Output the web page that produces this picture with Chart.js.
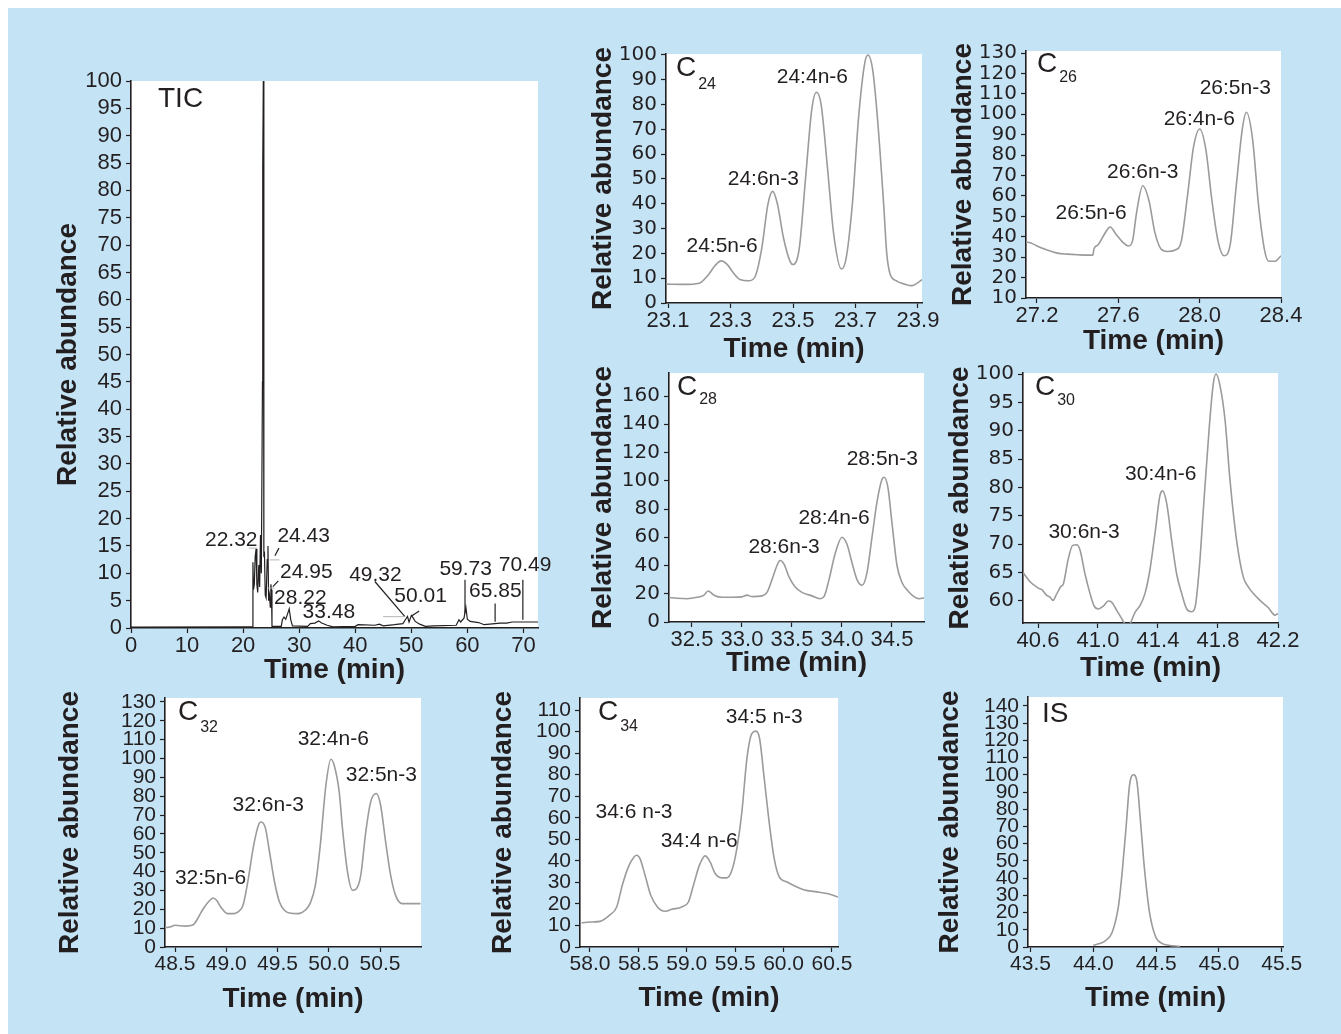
<!DOCTYPE html>
<html>
<head>
<meta charset="utf-8">
<title>VLC-PUFA chromatograms</title>
<script src="https://cdn.jsdelivr.net/npm/chart.js@4.4.1/dist/chart.umd.min.js"></script>
<style>
  html, body { margin: 0; padding: 0; background: #fff; }
  #page { position: absolute; left: 8px; top: 8px; width: 1333px; height: 1026px; background: #c4e4f6; overflow: hidden; }
  canvas { position: absolute; }
</style>
</head>
<body>
<div id="page"></div>
<script>
// ---- data ----

// TIC
const ticTime = [0, 21.6, 21.75, 21.85, 22.0, 22.15, 22.32, 22.45, 22.6, 22.8,
  22.95, 23.1, 23.25, 23.45, 23.5, 23.6, 23.7, 23.8, 23.95, 24.1,
  24.3, 24.43, 24.55, 24.7, 24.85, 24.95, 25.05, 25.15, 26.8, 27.0,
  27.3, 27.6, 27.9, 28.22, 28.5, 28.8, 31.5, 32.0, 32.8, 33.48,
  34.0, 35.0, 36.0, 40.0, 40.5, 43.5, 44.3, 45.0, 47.0, 48.5,
  49.0, 49.32, 49.6, 50.01, 50.3, 50.7, 51.5, 52.5, 54.0, 58.0,
  58.5, 58.8, 59.4, 59.73, 60.0, 60.5, 62.0, 63.0, 64.0, 65.85,
  67.0, 68.0, 70.49, 72.6]
const ticAbund = [0.15, 0.2, 12, 7, 8, 13, 14.5, 8, 6.5, 11.5,
  7.5, 17, 10, 45, 84, 100, 13, 14, 6, 5.5,
  12.5, 15, 5, 6, 3.8, 8, 7, 0.3, 0.3, 1.5,
  2, 1.6, 2.5, 3.5, 1.5, 0.4, 0.3, 0.8, 0.9, 1.3,
  0.9, 0.5, 0.2, 0.3, 0.6, 0.5, 0.7, 0.4, 0.6, 0.8,
  1.6, 2.1, 1.1, 2.3, 1.9, 1.2, 0.7, 0.3, 0.4, 0.5,
  1.5, 1.1, 1.8, 3.8, 1.6, 1.2, 1, 0.6, 0.7, 0.9,
  0.9, 1.1, 1.1, 1.1]
const ticXTicks = [0, 10, 20, 30, 40, 50, 60, 70]
const ticYTicks = [0, 5, 10, 15, 20, 25, 30, 35, 40, 45, 50, 55, 60, 65, 70, 75, 80, 85, 90, 95, 100]
const ticPeaks = ['22.32', '24.43', '24.95', '28.22', '33.48', '49.32', '50.01', '59.73', '65.85', '70.49']
const ticPeakTime = [17.88, 30.8, 31.28, 30.2, 35.3, 43.6, 51.66, 59.7, 65.0, 70.3]
const ticPeakAbund = [16.0, 16.7, 10.2, 5.4, 2.8, 9.6, 5.9, 10.8, 6.8, 11.4]
// leader lines: t1, v1, t2, v2, dark?
const ticLeaders = [
  [26.39, 14.6, 25.67, 13.2, 1], [26.28, 8.6, 25.31, 7.56, 1], [43.5, 8.5, 48.86, 2.07, 1],
  [51.4, 3.1, 50.05, 2.2, 1], [59.58, 8.8, 59.58, 2.7, 1], [64.95, 4.5, 64.95, 1.15, 1],
  [69.9, 8.8, 69.9, 1.5, 1],
  [21.02, 14.6, 22.45, 14.6, 0], [24.72, 12.45, 26.5, 12.45, 0], [24.4, 7.3, 25.6, 7.3, 0],
  [44.97, 2.07, 48.86, 2.07, 0]
]

// C24
const c24Time = [23.093, 23.15, 23.2, 23.23, 23.25, 23.27, 23.29, 23.31, 23.33, 23.36,
  23.38, 23.4, 23.42, 23.435, 23.45, 23.47, 23.49, 23.5, 23.52, 23.54,
  23.56, 23.575, 23.59, 23.61, 23.63, 23.655, 23.67, 23.69, 23.71, 23.73,
  23.74, 23.755, 23.77, 23.79, 23.8, 23.81, 23.83, 23.86, 23.88, 23.913]
const c24Abund = [7.6, 7.5, 8, 11.5, 15, 17, 15.5, 12, 9.5, 9,
  11, 22, 40, 45, 40, 26, 17, 15.5, 22, 50,
  78, 85, 80, 55, 28, 13.7, 18, 40, 75, 97,
  100, 94, 75, 40, 20, 12, 9, 7.5, 7, 9.4]
const c24XTicks = [23.1, 23.3, 23.5, 23.7, 23.9]
const c24YTicks = [0, 10, 20, 30, 40, 50, 60, 70, 80, 90, 100]
const c24Peaks = ['24:5n-6', '24:6n-3', '24:4n-6']
const c24PeakTime = [23.273, 23.405, 23.562]
const c24PeakAbund = [23, 49.8, 90.9]

// C26
const c26Time = [27.146, 27.17, 27.2, 27.25, 27.3, 27.35, 27.4, 27.45, 27.475, 27.48,
  27.5, 27.53, 27.56, 27.59, 27.62, 27.65, 27.67, 27.69, 27.72, 27.75,
  27.78, 27.81, 27.84, 27.88, 27.91, 27.94, 27.97, 28.0, 28.03, 28.06,
  28.09, 28.12, 28.15, 28.18, 28.21, 28.23, 28.26, 28.29, 28.32, 28.34,
  28.37, 28.4]
const c26Abund = [37.4, 37, 35.5, 33.5, 32, 31.5, 31.2, 31, 31, 34,
  36, 41, 44.8, 41, 37.5, 35.5, 38, 52, 65, 58,
  42, 34, 32.8, 33.5, 38, 60, 84, 92.8, 83, 58,
  38, 30.7, 36, 65, 93, 101, 88, 55, 33, 28,
  28, 30.7]
const c26XTicks = [27.2, 27.6, 28.0, 28.4]
const c26YTicks = [10, 20, 30, 40, 50, 60, 70, 80, 90, 100, 110, 120, 130]
const c26Peaks = ['26:5n-6', '26:6n-3', '26:4n-6', '26:5n-3']
const c26PeakTime = [27.466, 27.72, 27.998, 28.175]
const c26PeakAbund = [51.3, 71.7, 97.8, 112.9]

// C28
const c28Time = [32.27, 32.35, 32.45, 32.55, 32.62, 32.66, 32.72, 32.8, 32.9, 33.0,
  33.05, 33.1, 33.2, 33.25, 33.3, 33.35, 33.38, 33.42, 33.47, 33.53,
  33.6, 33.7, 33.78, 33.82, 33.87, 33.93, 34.0, 34.05, 34.1, 34.15,
  34.2, 34.25, 34.3, 34.35, 34.4, 34.42, 34.46, 34.5, 34.55, 34.6,
  34.66, 34.72, 34.77, 34.82]
const c28Abund = [17.3, 16.8, 16.5, 17.5, 19, 22, 19, 17.5, 17.5, 17.8,
  19, 18, 18.5, 21, 30, 40, 43.5, 41, 32, 25,
  21, 18.5, 16.5, 18, 30, 48, 60, 55, 42, 30,
  26, 35, 60, 85, 101, 102.5, 95, 70, 40, 28,
  22, 18, 16.5, 17]
const c28XTicks = [32.5, 33.0, 33.5, 34.0, 34.5]
const c28YTicks = [0, 20, 40, 60, 80, 100, 120, 140, 160]
const c28Peaks = ['28:6n-3', '28:4n-6', '28:5n-3']
const c28PeakTime = [33.42, 33.92, 34.403]
const c28PeakAbund = [53.2, 73.3, 115.4]

// C30
const c30Time = [40.5, 40.547, 40.6, 40.629, 40.658, 40.68, 40.7, 40.72, 40.751, 40.769,
  40.8, 40.831, 40.858, 40.88, 40.913, 40.947, 40.973, 41.002, 41.036, 41.069,
  41.091, 41.124, 41.158, 41.191, 41.213, 41.247, 41.28, 41.313, 41.342, 41.38,
  41.413, 41.431, 41.458, 41.491, 41.524, 41.558, 41.591, 41.624, 41.647, 41.676,
  41.702, 41.742, 41.769, 41.787, 41.813, 41.847, 41.88, 41.924, 41.969, 42.002,
  42.036, 42.08, 42.136, 42.18, 42.2]
const c30Abund = [65, 63.4, 62.3, 61.9, 61, 60.7, 60.1, 61, 62.5, 63,
  67.2, 69.8, 69.9, 69, 64.8, 61.3, 59.2, 58.6, 59.1, 60,
  59.8, 58.4, 56.9, 55.7, 56, 58, 59.2, 61.3, 64.8, 71.9,
  78.6, 79.4, 77.2, 70.7, 64.8, 61.3, 58.6, 58.1, 58.9, 66,
  76, 90.7, 98.4, 100, 98, 91.9, 81.3, 70.7, 64.2, 62.5,
  61.3, 60.1, 58.8, 57.5, 57.8]
const c30XTicks = [40.6, 41.0, 41.4, 41.8, 42.2]
const c30YTicks = [60, 65, 70, 75, 80, 85, 90, 95, 100]
const c30Peaks = ['30:6n-3', '30:4n-6']
const c30PeakTime = [40.907, 41.418]
const c30PeakAbund = [72.06, 82.35]

// C32
const c32Time = [48.403, 48.451, 48.5, 48.6, 48.678, 48.72, 48.775, 48.84, 48.872, 48.905,
  48.953, 49.011, 49.066, 49.115, 49.163, 49.215, 49.267, 49.319, 49.341, 49.383,
  49.422, 49.471, 49.519, 49.568, 49.617, 49.701, 49.769, 49.817, 49.869, 49.917,
  49.972, 50.021, 50.053, 50.102, 50.134, 50.183, 50.231, 50.264, 50.312, 50.361,
  50.409, 50.464, 50.506, 50.555, 50.604, 50.652, 50.717, 50.814, 50.895]
const c32Abund = [10.3, 10.6, 11.5, 11.1, 11.8, 15, 20.3, 24.8, 26, 24.8,
  20.7, 17.7, 17.7, 18.6, 22.1, 36.3, 53.9, 65.4, 66.3, 62.8,
  50.4, 34.5, 23.9, 19.5, 18, 17.7, 19.5, 23, 32.7, 53.9,
  85.8, 99.6, 96.4, 82.2, 62.8, 39.8, 30.1, 30.6, 38, 61,
  77, 81.4, 75.2, 55.7, 38, 27.4, 23, 23, 23]
const c32XTicks = [48.5, 49.0, 49.5, 50.0, 50.5]
const c32YTicks = [0, 10, 20, 30, 40, 50, 60, 70, 80, 90, 100, 110, 120, 130]
const c32Peaks = ['32:5n-6', '32:6n-3', '32:4n-6', '32:5n-3']
const c32PeakTime = [48.846, 49.409, 50.044, 50.513]
const c32PeakAbund = [36.3, 75.2, 110.5, 91.1]

// C34
const c34Time = [57.914, 58.0, 58.103, 58.2, 58.276, 58.334, 58.397, 58.455, 58.483, 58.517,
  58.569, 58.628, 58.697, 58.776, 58.845, 58.948, 59.017, 59.069, 59.131, 59.19,
  59.241, 59.293, 59.362, 59.414, 59.466, 59.517, 59.569, 59.621, 59.672, 59.714,
  59.752, 59.8, 59.855, 59.903, 59.955, 60.034, 60.138, 60.234, 60.345, 60.448,
  60.562]
const c34Abund = [11.2, 11.6, 11.9, 14.7, 18.6, 28.7, 37.2, 41.8, 42.6, 41,
  33.3, 24, 18.6, 16.6, 17.5, 18.6, 20.9, 28.7, 38, 42.3,
  39.5, 34.1, 32.1, 32.1, 35.6, 45.7, 62.7, 87.5, 99.1, 100.2,
  96.8, 78.2, 56.5, 41, 32.5, 30.2, 27.9, 26.3, 25.6, 24.8,
  23.2]
const c34XTicks = [58.0, 58.5, 59.0, 59.5, 60.0, 60.5]
const c34YTicks = [0, 10, 20, 30, 40, 50, 60, 70, 80, 90, 100, 110]
const c34Peaks = ['34:6 n-3', '34:4 n-6', '34:5 n-3']
const c34PeakTime = [58.455, 59.128, 59.8]
const c34PeakAbund = [62.4, 49.3, 106.6]

// internal standard
const isTime = [44.0, 44.05, 44.1, 44.151, 44.201, 44.23, 44.262, 44.288, 44.32, 44.347,
  44.378, 44.407, 44.447, 44.497, 44.55, 44.598, 44.69]
const isAbund = [1, 2, 3.9, 8.7, 24.2, 43.6, 70.7, 93.9, 100, 96,
  70.7, 45.5, 20.3, 5.8, 2, 1, 0.4]
const isXTicks = [43.5, 44.0, 44.5, 45.0, 45.5]
const isYTicks = [0, 10, 20, 30, 40, 50, 60, 70, 80, 90, 100, 110, 120, 130, 140]

// ---- drawing ----

const INK = '#231f20'
const CURVE = '#9b9b9b'
const FONT = '"Liberation Sans", Arial, Helvetica, sans-serif'
const WIDE = '"DejaVu Sans", "Liberation Sans", Arial, sans-serif'
const PAD_TOP = 25
const PAD_RIGHT = 40

const bigTicks = { family: FONT, size: 22 }
const wideTicks = { family: WIDE, size: 20 }
const smallTicks = { family: FONT, size: 21 }

const panels = [
  { key: 'tic', area: [131, 81, 538, 628], yGap: 63, xGap: 42, x: [0, 72.6], y: [0, 100],
    time: ticTime, abund: ticAbund, xTicks: ticXTicks, yTicks: ticYTicks, dec: 0,
    xFont: bigTicks, yFont: bigTicks,
    color: INK, lw: 1.2, smooth: false,
    names: ticPeaks, nt: ticPeakTime, nv: ticPeakAbund, leaders: ticLeaders,
    tag: 'TIC', sub: '', tagDx: 27, tagDy: 18 },
  { key: 'c24', area: [666, 54, 922, 303], yGap: 63, xGap: 46, x: [23.0936, 23.9128], y: [0, 100.4],
    time: c24Time, abund: c24Abund, xTicks: c24XTicks, yTicks: c24YTicks, dec: 1,
    xFont: bigTicks, yFont: wideTicks,
    names: c24Peaks, nt: c24PeakTime, nv: c24PeakAbund,
    tag: 'C', sub: '24', tagDx: 10, tagDy: 14, subDy: 31 },
  { key: 'c26', area: [1026, 51, 1281, 298], yGap: 63, xGap: 43, x: [27.146, 28.4], y: [10, 131],
    time: c26Time, abund: c26Abund, xTicks: c26XTicks, yTicks: c26YTicks, dec: 1,
    xFont: bigTicks, yFont: wideTicks,
    names: c26Peaks, nt: c26PeakTime, nv: c26PeakAbund,
    tag: 'C', sub: '26', tagDx: 11, tagDy: 13, subDy: 27 },
  { key: 'c28', area: [669, 373, 924, 622], yGap: 66, xGap: 41, x: [32.27, 34.82], y: [0, 176.3],
    time: c28Time, abund: c28Abund, xTicks: c28XTicks, yTicks: c28YTicks, dec: 1,
    xFont: bigTicks, yFont: wideTicks,
    names: c28Peaks, nt: c28PeakTime, nv: c28PeakAbund,
    tag: 'C', sub: '28', tagDx: 8, tagDy: 14, subDy: 27 },
  { key: 'c30', area: [1023, 373, 1278, 623], yGap: 63, xGap: 45, x: [40.5, 42.2], y: [56.12, 100.18],
    time: c30Time, abund: c30Abund, xTicks: c30XTicks, yTicks: c30YTicks, dec: 1,
    xFont: bigTicks, yFont: wideTicks,
    names: c30Peaks, nt: c30PeakTime, nv: c30PeakAbund,
    tag: 'C', sub: '30', tagDx: 12, tagDy: 14, subDy: 28 },
  { key: 'c32', area: [165, 698, 421, 947], yGap: 95, xGap: 52, x: [48.402, 50.9], y: [0, 132.1],
    time: c32Time, abund: c32Abund, xTicks: c32XTicks, yTicks: c32YTicks, dec: 1,
    xFont: smallTicks, yFont: smallTicks,
    names: c32Peaks, nt: c32PeakTime, nv: c32PeakAbund,
    tag: 'C', sub: '32', tagDx: 13, tagDy: 14, subDy: 30 },
  { key: 'c34', area: [580, 698, 838, 947], yGap: 77, xGap: 51, x: [57.897, 60.562], y: [0, 115.6],
    time: c34Time, abund: c34Abund, xTicks: c34XTicks, yTicks: c34YTicks, dec: 1,
    xFont: smallTicks, yFont: smallTicks,
    names: c34Peaks, nt: c34PeakTime, nv: c34PeakAbund,
    tag: 'C', sub: '34', tagDx: 18, tagDy: 14, subDy: 29 },
  { key: 'is', area: [1028, 697, 1283, 947], yGap: 78, xGap: 51, x: [43.48, 45.51], y: [0, 145.2],
    time: isTime, abund: isAbund, xTicks: isXTicks, yTicks: isYTicks, dec: 1,
    xFont: smallTicks, yFont: smallTicks,
    names: [], nt: [], nv: [],
    tag: 'IS', sub: '', tagDx: 14, tagDy: 17 },
]

function axis(pos, range, ticks, dec, size, font, title) {
  return {
    type: 'linear',
    position: pos,
    min: range[0],
    max: range[1],
    afterBuildTicks: s => { s.ticks = ticks.map(v => ({ value: v })) },
    afterFit: s => { if (pos === 'left') s.width = size; else s.height = size },
    ticks: {
      autoSkip: false, maxRotation: 0, minRotation: 0,
      padding: pos === 'left' ? 4 : 0,
      color: INK, font: font,
      callback: v => v.toFixed(dec),
    },
    grid: { display: true, drawOnChartArea: false, drawTicks: true, tickLength: 5, tickColor: INK, tickWidth: 1.2 },
    border: { display: true, color: INK, width: 1.6 },
    title: {
      display: true, text: title, color: INK, padding: 0,
      font: { family: FONT, size: 28, weight: 'bold', lineHeight: 1.2 },
    },
  }
}

function decor(p) {
  return {
    id: 'decor_' + p.key,
    beforeDraw(chart) {
      const { ctx, chartArea: a } = chart
      ctx.save()
      ctx.fillStyle = '#ffffff'
      ctx.fillRect(a.left, a.top, a.right - a.left, a.bottom - a.top)
      ctx.restore()
    },
    afterDatasetsDraw(chart) {
      const { ctx, chartArea: a, scales: { x, y } } = chart
      ctx.save()
      ;(p.leaders || []).forEach(([t1, v1, t2, v2, dark]) => {
        ctx.strokeStyle = dark ? INK : '#b5b5b5'
        ctx.lineWidth = dark ? 1.2 : 1
        ctx.beginPath()
        ctx.moveTo(x.getPixelForValue(t1), y.getPixelForValue(v1))
        ctx.lineTo(x.getPixelForValue(t2), y.getPixelForValue(v2))
        ctx.stroke()
      })
      ctx.fillStyle = INK
      ctx.textAlign = 'center'
      ctx.textBaseline = 'middle'
      ctx.font = '21px ' + FONT
      p.names.forEach((n, i) => {
        ctx.fillText(n, x.getPixelForValue(p.nt[i]), y.getPixelForValue(p.nv[i]))
      })
      // panel tag, e.g. C with subscript chain length
      ctx.textAlign = 'left'
      ctx.font = '28px ' + FONT
      ctx.fillText(p.tag, a.left + p.tagDx, a.top + p.tagDy)
      if (p.sub) {
        const w = ctx.measureText(p.tag).width
        ctx.font = '16px ' + FONT
        ctx.fillText(p.sub, a.left + p.tagDx + w + 2, a.top + p.subDy)
      }
      ctx.restore()
    },
  }
}

function makePanel(p) {
  const [L, T, R, B] = p.area
  const yW = p.yGap + 17
  const xH = p.xGap + 17
  const cv = document.createElement('canvas')
  cv.width = yW + (R - L) + PAD_RIGHT
  cv.height = PAD_TOP + (B - T) + xH
  cv.style.left = (L - yW - 8) + 'px'
  cv.style.top = (T - PAD_TOP - 8) + 'px'
  document.getElementById('page').appendChild(cv)

  return new Chart(cv.getContext('2d'), {
    type: 'line',
    data: {
      datasets: [{
        data: p.time.map((t, i) => ({ x: t, y: p.abund[i] })),
        borderColor: p.color || CURVE,
        borderWidth: p.lw || 1.6,
        pointRadius: 0,
        tension: 0,
        cubicInterpolationMode: p.smooth === false ? 'default' : 'monotone',
        fill: false,
      }],
    },
    options: {
      responsive: false,
      animation: false,
      devicePixelRatio: 1,
      layout: { padding: { top: PAD_TOP, right: PAD_RIGHT, left: 0, bottom: 0 } },
      plugins: { legend: { display: false }, tooltip: { enabled: false } },
      scales: {
        x: axis('bottom', p.x, p.xTicks, p.dec, xH, p.xFont, 'Time (min)'),
        y: axis('left', p.y, p.yTicks, 0, yW, p.yFont, 'Relative abundance'),
      },
    },
    plugins: [decor(p)],
  })
}

panels.forEach(makePanel)
</script>
</body>
</html>
